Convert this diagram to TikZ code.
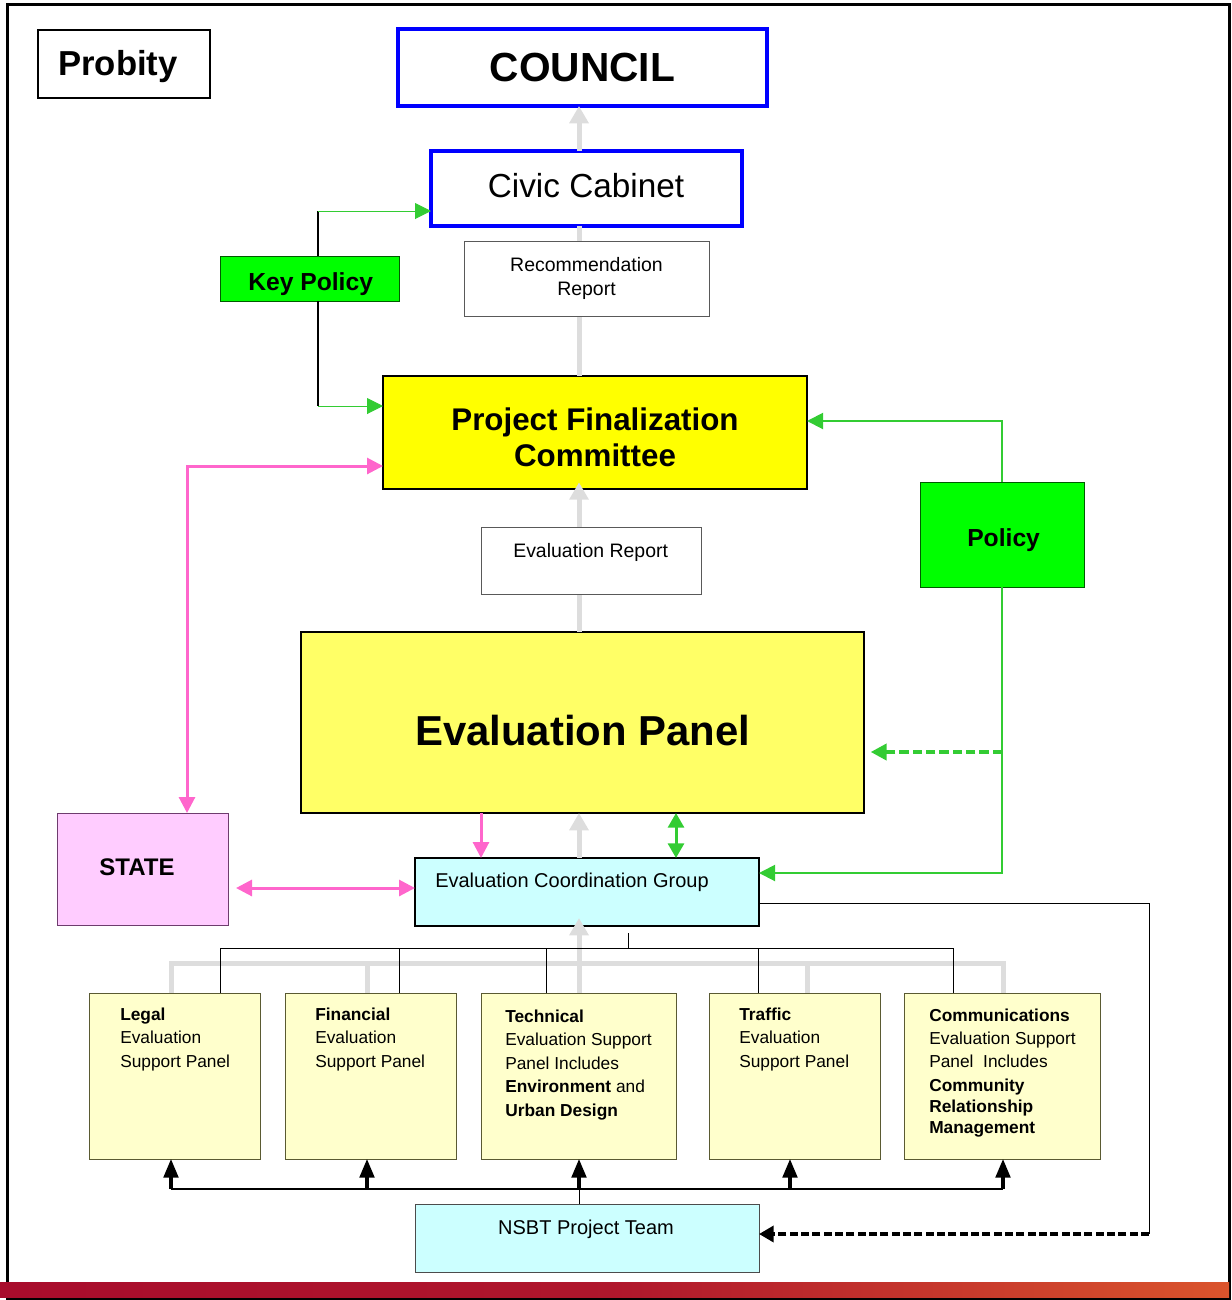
\documentclass[tikz,border=0pt]{standalone}
\usepackage{fontspec}
\setmainfont{Liberation Sans}
\usetikzlibrary{arrows.meta}

\definecolor{boxblue}{RGB}{0,0,255}
\definecolor{keygreen}{RGB}{0,255,0}
\definecolor{darkgreen}{RGB}{0,90,0}
\definecolor{linegreen}{RGB}{51,204,51}
\definecolor{linegrey}{RGB}{221,221,221}
\definecolor{pinkline}{RGB}{255,102,204}
\definecolor{pfcyellow}{RGB}{255,255,0}
\definecolor{panelyellow}{RGB}{255,255,102}
\definecolor{paleyellow}{RGB}{255,255,204}
\definecolor{palecyan}{RGB}{204,255,255}
\definecolor{statepink}{RGB}{255,204,255}
\definecolor{stateedge}{RGB}{110,60,110}
\definecolor{olive}{RGB}{90,90,50}
\definecolor{bandred}{RGB}{168,12,44}
\definecolor{bandorange}{RGB}{218,84,44}

\tikzset{
  box/.style={draw, inner sep=0pt, outer sep=0pt, line width=0.75pt},
  boxsize/.style 2 args={minimum width=#1*0.75pt, minimum height=#2*0.75pt},
  bluebox/.style={box, draw=boxblue, line width=3pt},
  greenbox/.style={box, fill=keygreen, draw=darkgreen},
  greentext/.style={inner sep=0pt, anchor=base west, font=\fontsize{18.5}{22}\selectfont\bfseries},
  reportbox/.style={box, draw=black!65, fill=white, font=\fontsize{14.6}{18}\selectfont},
  suppanel/.style={box, draw=olive, fill=paleyellow},
  paneltext/.style={inner sep=0pt, anchor=base west, align=left, font=\fontsize{13}{17.6}\selectfont},
  greyline/.style={draw=linegrey, line width=3.75pt},
  greyarrow/.style={greyline, -{Triangle[width=14pt,length=13pt]}},
  greenarrow/.style={draw=linegreen, line width=1.5pt, -{Triangle[width=12pt,length=12pt]}},
  pinkarrow/.style={draw=pinkline, line width=2.25pt, -{Triangle[width=12pt,length=12pt]}},
  blackarrow/.style={draw=black, line width=2.4pt, -{Triangle[width=11pt,length=14pt]}}
}

\begin{document}
\begin{tikzpicture}[x=0.75pt,y=0.75pt,yscale=-1,xscale=1]
\useasboundingbox (0,0) rectangle (1232,1300);

% frame and band
\draw[line width=2.25pt] (7,4) rectangle (1229,1298);
\shade[left color=bandred, right color=bandorange, middle color=bandred!85!bandorange] (0,1282) rectangle (1229,1297);

% top boxes
\node[box, line width=1.5pt, boxsize={172}{68}] (probity) at (124,64) {};
\node[inner sep=0pt, anchor=base west, font=\fontsize{26}{30}\selectfont\bfseries] (probity-text) at (58,75) {Probity};
\node[bluebox, boxsize={369}{77}, font=\fontsize{30.5}{34}\selectfont\bfseries] (council) at (582.5,67.5) {COUNCIL};
\node[bluebox, boxsize={311}{75}] (cabinet) at (586.5,188.5) {};
\node[inner sep=0pt, anchor=base, font=\fontsize{25}{30}\selectfont] (cabinet-text) at (586,197) {Civic Cabinet};
\node[greenbox, boxsize={179}{45}] (keypol) at (309.5,278.5) {};
\node[greentext] (keypol-text) at (248,290) {Key Policy};
\node[box, line width=1.8pt, fill=pfcyellow, boxsize={424}{113}] (pfc) at (595,432.5) {};
\node[inner sep=0pt, anchor=base, align=center, font=\fontsize{23.5}{27}\selectfont\bfseries] (pfc-text) at (595,466) {Project Finalization\\Committee};
\node[greenbox, boxsize={164}{105}] (policy) at (1002,534.5) {};
\node[greentext] (policy-text) at (967,546) {Policy};
\node[box, line width=1.5pt, fill=panelyellow, boxsize={563}{181}] (panel) at (582.5,722.5) {};
\node[inner sep=0pt, anchor=base west, font=\fontsize{31.4}{36}\selectfont\bfseries] (panel-text) at (415,745) {Evaluation Panel};
\node[box, draw=stateedge, fill=statepink, boxsize={171}{112}] (state) at (142.5,869) {};
\node[inner sep=0pt, anchor=base, font=\fontsize{18}{22}\selectfont\bfseries] (state-text) at (137,875) {STATE};
\node[box, line width=1.8pt, fill=palecyan, boxsize={344}{68}] (ecg) at (587,892) {};
\node[inner sep=0pt, anchor=base west, font=\fontsize{15}{18}\selectfont] (ecg-text) at (435,887) {Evaluation Coordination Group};

% trunk of grey report arrows
\coordinate (trunk) at (579,0);
\draw[greyarrow] (trunk |- cabinet.north) -- (trunk |- council.south);
\draw[greyline] (trunk |- pfc.north) -- (trunk |- cabinet.south);
\draw[greyarrow, shorten >=-5pt] (trunk |- panel.north) -- (trunk |- pfc.south);
\node[reportbox, boxsize={245}{75}, align=center] (recrep) at (586.5,278.5) {Recommendation\\Report};
\node[reportbox, boxsize={220}{67}] (evalrep) at (591,560.5) {};
\node[inner sep=0pt, anchor=base west, font=\fontsize{14.6}{18}\selectfont] (evalrep-text) at (513,557) {Evaluation Report};

% key policy
\coordinate (kx) at (318,211);
\coordinate (kx2) at (318,406);
\draw[line width=1.5pt] (kx |- keypol.north) -- (kx);
\draw[greenarrow, line width=0.75pt] (kx) -- (kx -| cabinet.west);
\draw[line width=1.5pt] (kx |- keypol.south) -- (kx2);
\draw[greenarrow, line width=0.75pt] (kx2) -- (kx2 -| pfc.west);

% policy
\coordinate (gy1) at (0,421);
\coordinate (gy2) at (0,873);
\coordinate (gy3) at (0,752);
\draw[greenarrow] (policy.north) -- (policy.north |- gy1) -- (pfc.east |- gy1);
\draw[greenarrow] (policy.south) -- (policy.south |- gy2) -- (ecg.east |- gy2);
\draw[greenarrow, line width=3pt, dash pattern=on 7pt off 3pt, shorten >=5pt] (policy.south |- gy3) -- (panel.east |- gy3);

% state links
\coordinate (pk) at (187,466);
\coordinate (pinky) at (0,888);
\draw[pinkarrow, {Triangle[width=12pt,length=12pt]}-{Triangle[width=12pt,length=12pt]}] (pk -| pfc.west) -- (pk) -- (pk |- state.north);
\draw[pinkarrow, {Triangle[width=12pt,length=12pt]}-{Triangle[width=12pt,length=12pt]}, shorten <=6pt] (state.east |- pinky) -- (ecg.west |- pinky);

% panel to ecg
\coordinate (pd) at (481,0);
\coordinate (gd) at (676,0);
\draw[pinkarrow] (pd |- panel.south) -- (pd |- ecg.north);
\draw[greyarrow] (trunk |- ecg.north) -- (trunk |- panel.south);
\draw[greenarrow, line width=2.25pt, {Triangle[width=12pt,length=11pt]}-{Triangle[width=12pt,length=11pt]}] (gd |- panel.south) -- (gd |- ecg.north);

% support panels
\node[suppanel, boxsize={171}{166}] (legal) at (174.5,1076) {};
\node[suppanel, boxsize={171}{166}] (financial) at (370.5,1076) {};
\node[suppanel, boxsize={195}{166}] (technical) at (578.5,1076) {};
\node[suppanel, boxsize={171}{166}] (traffic) at (794.5,1076) {};
\node[suppanel, boxsize={196}{166}] (comms) at (1002,1076) {};
\node[paneltext] (legal-text) at (120,1067) {\textbf{Legal}\\Evaluation\\Support Panel};
\node[paneltext] (financial-text) at (315,1067) {\textbf{Financial}\\Evaluation\\Support Panel};
\node[paneltext] (technical-text) at (505,1116) {\textbf{Technical}\\Evaluation Support\\Panel Includes\\\textbf{Environment} and\\\textbf{Urban Design}};
\node[paneltext] (traffic-text) at (739,1067) {\textbf{Traffic}\\Evaluation\\Support Panel};
\node[paneltext] (comms-text) at (929,1133) {\textbf{Communications}\\Evaluation Support\\Panel~ Includes\\\textbf{Community}\\[-2pt]\textbf{Relationship}\\[-2pt]\textbf{Management}};

% grey bus from panels
\coordinate (gl) at (171,963);
\coordinate (gf) at (367,963);
\coordinate (gr) at (807,963);
\coordinate (gc) at (1003,963);
\draw[greyline] (gl |- legal.north) -- (gl) -- (gc) -- (gc |- comms.north);
\draw[greyline] (gf) -- (gf |- financial.north);
\draw[greyline] (gr) -- (gr |- traffic.north);
\draw[greyarrow, shorten >=-6pt] (trunk |- technical.north) -- (trunk |- ecg.south);

% black bus from ecg
\coordinate (bus) at (220,948);
\coordinate (stub) at (628,933);
\draw[line width=0.75pt] (stub) -- (stub |- bus);
\foreach \x/\p in {220/legal,399/financial,546/technical,758/traffic,953/comms}{
  \coordinate (bus-\p) at (\x,948);
  \draw[line width=0.75pt] (bus-\p) -- (bus-\p |- \p.north);
}
\draw[line width=0.75pt] (bus-legal) -- (bus-comms);

% project team
\node[box, draw=black!70, fill=palecyan, boxsize={344}{68}] (nsbt) at (587,1238) {};
\node[inner sep=0pt, anchor=base, font=\fontsize{15}{18}\selectfont] (nsbt-text) at (586,1234) {NSBT Project Team};
\foreach \x/\p in {171/legal,367/financial,579/technical,790/traffic,1003/comms}{
  \coordinate (nb-\p) at (\x,1189);
  \draw[blackarrow] (nb-\p) -- (nb-\p |- \p.south);
}
\draw[line width=1.5pt] (nb-legal) -- (nb-comms);
\draw[line width=0.75pt] (trunk |- nsbt.north) -- (trunk |- nb-legal);

% ecg to project team
\coordinate (rt) at (1149,903);
\coordinate (rb) at (1149,1234);
\draw[line width=0.75pt] (ecg.east |- rt) -- (rt) -- (rb);
\draw[blackarrow, line width=2.6pt, dash pattern=on 6pt off 2.5pt, -{Triangle[width=12pt,length=11pt]}] (rb) -- (nsbt.east |- rb);

\end{tikzpicture}
\end{document}
